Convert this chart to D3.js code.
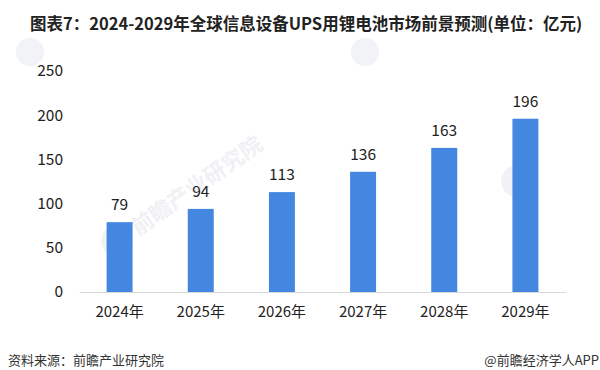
<!DOCTYPE html>
<html>
<head>
<meta charset="utf-8">
<script src="https://cdn.jsdelivr.net/npm/d3@7"></script>
<style>
  body { margin: 0; background: #fff; }
  svg { display: block; font-family: "Noto Sans CJK SC", "Microsoft YaHei", sans-serif; }
</style>
</head>
<body>
<svg id="chart" width="600" height="370"></svg>
<script>
// data
var years = ["2024年", "2025年", "2026年", "2027年", "2028年", "2029年"];
var values = [79, 94, 113, 136, 163, 196];
var yTicks = [0, 50, 100, 150, 200, 250];

var titleText = "图表7：2024-2029年全球信息设备UPS用锂电池市场前景预测(单位：亿元)";
var sourceText = "资料来源：前瞻产业研究院";
var brandText = "@前瞻经济学人APP";

var margin = {top: 71, right: 34, bottom: 78, left: 79};
var width = 600 - margin.left - margin.right;
var height = 370 - margin.top - margin.bottom;

var svg = d3.select("#chart");

// faint watermarks behind everything
var wm = svg.append("g").attr("class", "watermark");
[[140, 225, 1], [540, 165, 0]].forEach(function(p) {
  var g = wm.append("g").attr("transform", "translate(" + p[0] + "," + p[1] + ") rotate(-35)");
  g.append("circle").attr("cx", -28).attr("cy", 0).attr("r", 16)
    .attr("fill", "#f0f2f5");
  if (p[2]) {
    g.append("text").attr("x", -8).attr("y", 8)
      .attr("font-size", 22).attr("font-weight", "bold")
      .attr("fill", "#f0f1f4").text("前瞻产业研究院");
  }
});
// partial logos peeking at the top
[[30, 52], [365, 52]].forEach(function(p) {
  wm.append("circle").attr("cx", p[0]).attr("cy", p[1]).attr("r", 14).attr("fill", "#f2f3f6");
});

var data = years.map(function(y, i) { return {year: y, value: values[i]}; });

var xScale = d3.scaleBand()
  .domain(years)
  .range([0, width])
  .paddingInner(0.68)
  .paddingOuter(0.34);

var yScale = d3.scaleLinear()
  .domain([0, 250])
  .range([height, 0]);

var plot = svg.append("g")
  .attr("transform", "translate(" + margin.left + "," + margin.top + ")");

// y tick labels only, no axis line
var yAxis = d3.axisLeft(yScale).tickValues(yTicks).tickSize(0).tickPadding(16);
plot.append("g").call(yAxis)
  .call(function(g) { g.select(".domain").remove(); })
  .selectAll("text")
    .attr("font-size", 15.5)
    .attr("fill", "#222")
    .attr("font-family", "'Noto Sans CJK SC', sans-serif");

plot.selectAll(".bar")
  .data(data)
  .enter().append("rect")
    .attr("class", "bar")
    .attr("x", function(d) { return xScale(d.year); })
    .attr("y", function(d) { return yScale(d.value); })
    .attr("width", xScale.bandwidth())
    .attr("height", function(d) { return height - yScale(d.value); })
    .attr("fill", "#4387e1");

plot.selectAll(".val")
  .data(data)
  .enter().append("text")
    .attr("class", "val")
    .attr("x", function(d) { return xScale(d.year) + xScale.bandwidth() / 2; })
    .attr("y", function(d) { return yScale(d.value) - 12; })
    .attr("text-anchor", "middle")
    .attr("font-size", 15.5)
    .attr("fill", "#222")
    .text(function(d) { return d.value; });

// x axis: baseline + category labels
var xAxis = d3.axisBottom(xScale).tickSize(0).tickPadding(14);
var xg = plot.append("g").attr("transform", "translate(0," + height + ")").call(xAxis);
xg.select(".domain").attr("stroke", "#d9d9d9").attr("stroke-width", 1.2);
xg.selectAll("text")
  .attr("font-size", 15)
  .attr("fill", "#222")
  .attr("font-family", "'Noto Sans CJK SC', sans-serif");

// title and footer
svg.append("text")
  .attr("x", 30).attr("y", 30)
  .attr("font-size", 16.5).attr("font-weight", "bold")
  .attr("fill", "#222")
  .text(titleText);

svg.append("text")
  .attr("x", 8).attr("y", 365)
  .attr("font-size", 13).attr("fill", "#333")
  .text(sourceText);

svg.append("text")
  .attr("x", 599).attr("y", 365)
  .attr("text-anchor", "end")
  .attr("font-size", 13).attr("fill", "#333")
  .text(brandText);
</script>
</body>
</html>
